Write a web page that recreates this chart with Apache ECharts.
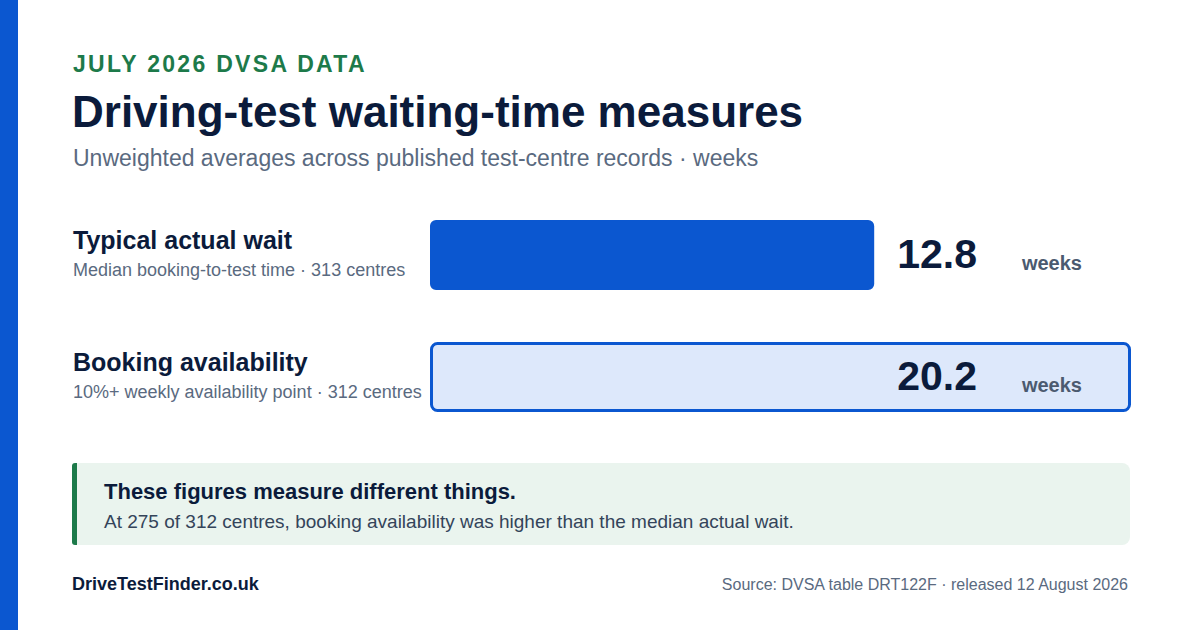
<!DOCTYPE html>
<html><head><meta charset="utf-8">
<script src="https://cdn.jsdelivr.net/npm/echarts@6/dist/echarts.min.js"></script>
<style>html,body{margin:0;padding:0;background:#fff}#c{width:1200px;height:630px}</style>
</head><body><div id="c"></div>
<script>
var categories = ['Typical actual wait', 'Booking availability'];
var subtitles = ['Median booking-to-test time · 313 centres', '10%+ weekly availability point · 312 centres'];
var values = [12.8, 20.2];
var unit = 'weeks';

var FONT = '"Liberation Sans", Arial, sans-serif';
var NAVY = '#0b1b3b';
var BLUE = '#0b57d0';
var GRAY = '#5a6a80';
var GREEN = '#1d7a4a';
var KICKER = 'JULY 2026 DVSA DATA';

var chart = echarts.init(document.getElementById('c'), null, {renderer: 'svg'});
chart.setOption({
  backgroundColor: '#ffffff',
  animation: false,
  textStyle: {fontFamily: FONT},
  grid: {left: 430, right: 69, top: 194, height: 244, containLabel: false},
  xAxis: {type: 'value', min: 0, max: Math.max.apply(null, values), show: false},
  yAxis: [{
    type: 'category', data: categories, inverse: true, position: 'left',
    axisLine: {show: false}, axisTick: {show: false}, splitLine: {show: false},
    axisLabel: {
      align: 'left', margin: 357,
      formatter: function (v, i) { return '{t|' + v + '}\n{s|' + subtitles[i] + '}'; },
      rich: {
        t: {fontFamily: FONT, fontSize: 25, fontWeight: 'bold', color: NAVY, lineHeight: 30},
        s: {fontFamily: FONT, fontSize: 18, color: GRAY, lineHeight: 30}
      }
    }
  }, {
    type: 'category', data: categories, inverse: true, position: 'right', z: 10,
    axisLine: {show: false}, axisTick: {show: false}, splitLine: {show: false},
    axisLabel: {
      inside: true, align: 'right', margin: 49,
      formatter: function (v, i) { return '{v|' + values[i] + '}{u|' + unit + '}'; },
      rich: {
        v: {fontFamily: FONT, fontSize: 41, fontWeight: 'bold', color: NAVY, lineHeight: 46, verticalAlign: 'bottom', padding: [0, 0, 4, 0]},
        u: {fontFamily: FONT, fontSize: 20, fontWeight: 'bold', color: '#4b5a70', padding: [0, 0, 5, 45], verticalAlign: 'bottom'}
      }
    }
  }],
  series: [{
    type: 'bar', yAxisIndex: 0, barWidth: 70, z: 2,
    data: values.map(function (v, i) {
      return i === 0
        ? {value: v, itemStyle: {color: BLUE, borderRadius: 6}}
        : {value: v, itemStyle: {color: '#dde8fb', borderColor: BLUE, borderWidth: 3, borderRadius: 6}};
    })
  }],
  graphic: [
    {type: 'rect', left: 0, top: 0, shape: {width: 18, height: 630}, style: {fill: BLUE}},
    {type: 'text', x: 73, y: 64, style: {text: KICKER, font: 'bold 23px ' + FONT, fill: GREEN, textVerticalAlign: 'middle'}},
    {type: 'text', x: 72, y: 111, style: {text: 'Driving-test waiting-time measures', font: 'bold 44px ' + FONT, fill: NAVY, textVerticalAlign: 'middle'}},
    {type: 'text', x: 73, y: 158, style: {text: 'Unweighted averages across published test-centre records · weeks', font: '23px ' + FONT, fill: GRAY, textVerticalAlign: 'middle'}},
    {type: 'rect', left: 72, top: 463, shape: {width: 1058, height: 82, r: 8}, style: {fill: '#eaf4ee'}},
    {type: 'rect', left: 72, top: 463, shape: {width: 5, height: 82, r: [3, 0, 0, 3]}, style: {fill: GREEN}},
    {type: 'text', x: 104, y: 491, style: {text: 'These figures measure different things.', font: 'bold 22px ' + FONT, fill: NAVY, textVerticalAlign: 'middle'}},
    {type: 'text', x: 104, y: 521, style: {text: 'At 275 of 312 centres, booking availability was higher than the median actual wait.', font: '19px ' + FONT, fill: '#34445a', textVerticalAlign: 'middle'}},
    {type: 'text', x: 72, y: 584, style: {text: 'DriveTestFinder.co.uk', font: 'bold 18px ' + FONT, fill: NAVY, textVerticalAlign: 'middle'}},
    {type: 'text', x: 1128, y: 584, style: {text: 'Source: DVSA table DRT122F · released 12 August 2026', font: '16px ' + FONT, fill: GRAY, textAlign: 'right', textVerticalAlign: 'middle'}}
  ]
});
// letter-spacing for the kicker line (SVG renderer)
var texts = document.querySelectorAll('#c text');
for (var i = 0; i < texts.length; i++) {
  if (texts[i].textContent === KICKER) {
    texts[i].setAttribute('letter-spacing', '2.3px');
    texts[i].style.letterSpacing = '2.3px';
  }
}
</script></body></html>
